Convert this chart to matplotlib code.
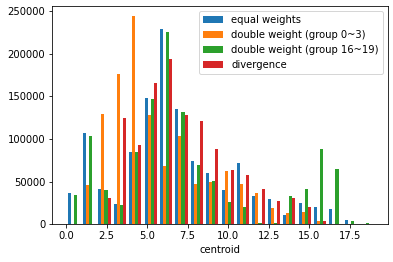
import numpy as np
import matplotlib
matplotlib.use("Agg")
import matplotlib.pyplot as plt

# centroid index 0..19, counts per centroid for each weighting scheme
centroids = np.arange(20)

equal_weights = [36500, 107000, 41500, 23900, 85000, 148500, 228500, 135600, 74800, 60300,
                 40300, 72000, 33300, 29700, 11000, 25000, 20300, 18000, 5000, 0]
double_low = [0, 46000, 129700, 176800, 243800, 128500, 68600, 103800, 47400, 49700,
              62700, 47400, 36800, 19200, 13300, 14500, 3900, 0, 0, 0]
double_high = [34500, 104000, 40000, 22700, 85000, 147400, 225000, 132000, 69700, 51000,
               26200, 20300, 1500, 1500, 33300, 41500, 88500, 65000, 3900, 1500]
divergence = [0, 0, 31000, 125000, 93000, 166000, 194400, 128500, 121500, 88500,
              63900, 58000, 41500, 27400, 31000, 20300, 3900, 0, 0, 0]

labels = ["equal weights", "double weight (group 0~3)",
          "double weight (group 16~19)", "divergence"]

DPI = 72
fig = plt.figure(figsize=(393 / DPI, 262 / DPI), dpi=DPI)
ax = fig.add_axes([0.133, 0.144, 0.8535, 0.833])

series = [equal_weights, double_low, double_high, divergence]
ax.hist([centroids] * 4, bins=20, weights=series, label=labels)

ax.set_xlabel("centroid")
ax.legend(loc="upper right")

fig.savefig("out.png", dpi=DPI)
